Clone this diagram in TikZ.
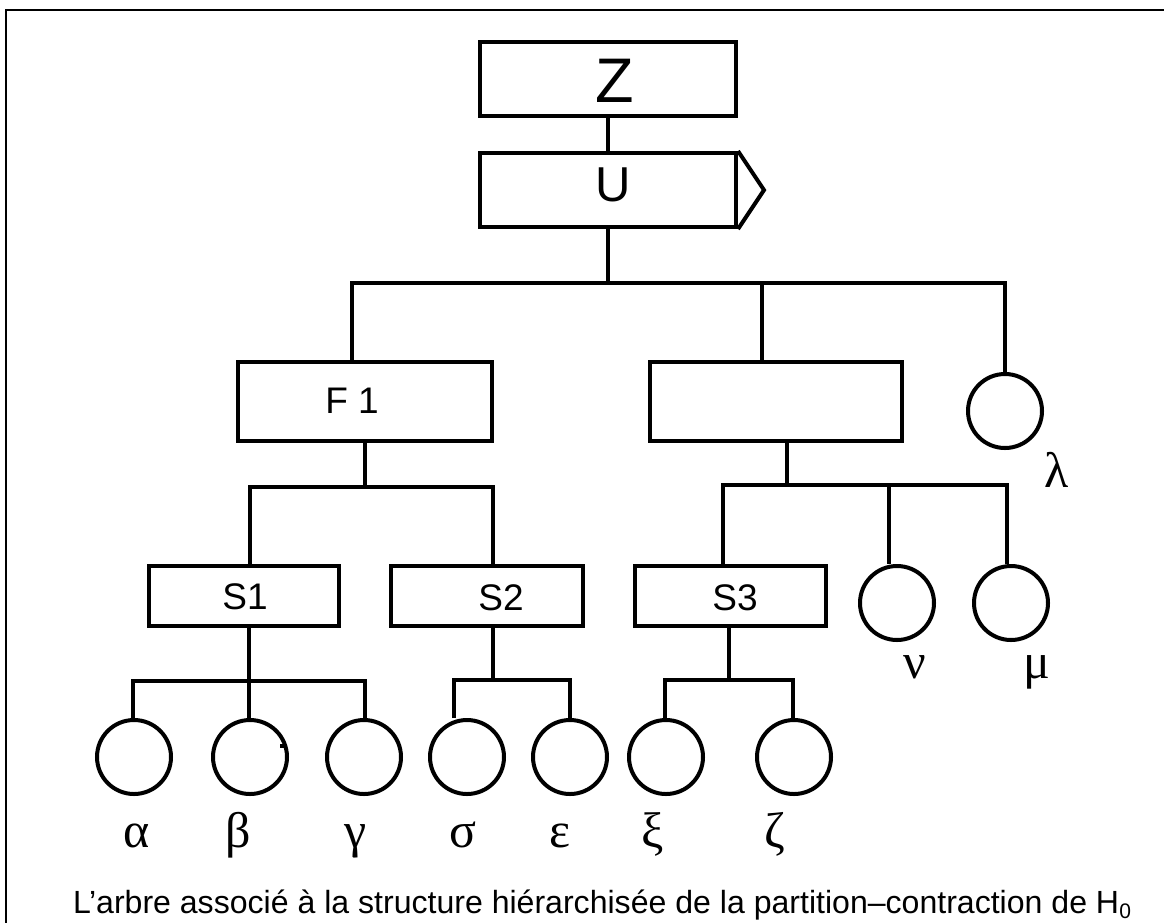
\documentclass[tikz,border=0pt]{standalone}
\usepackage{fontspec}
\setmainfont{Liberation Sans}
\newfontfamily\gk{Liberation Serif}
\begin{document}
\begin{tikzpicture}[x=1pt,y=-1pt, line width=4pt, line join=miter,
  box/.style={draw, line width=4pt, inner sep=0pt},
  leaf/.style={draw, circle, line width=4pt, minimum size=74pt, inner sep=0pt},
  gl/.style={font=\gk\fontsize{50}{52}\selectfont, anchor=base, inner sep=0pt},
  lbl/.style={inner sep=0pt},
  frame/.style={line width=2pt}
]
\useasboundingbox (0,0) rectangle (1164,922);
\draw[frame] (6,940) -- (6,10) -- (1180,10);

% boxes
\node[box, minimum width=256pt, minimum height=74pt] (Z) at (608,79) {};
\node[box, minimum width=256pt, minimum height=74pt] (U) at (608,190) {};
\draw (U.north east) -- ++(26,39) -- (U.south east);
\node[box, minimum width=254pt, minimum height=79pt] (F1) at (365,401.5) {};
\node[box, minimum width=252pt, minimum height=79pt] (M) at (776,401.5) {};
\node[box, minimum width=190pt, minimum height=60pt] (S1) at (244,596) {};
\node[box, minimum width=192pt, minimum height=60pt] (S2) at (487,596) {};
\node[box, minimum width=191pt, minimum height=60pt] (S3) at (730.5,596) {};

% box texts
\node[lbl, font=\fontsize{63}{70}\selectfont] at (615,81) {Z};
\node[lbl, font=\fontsize{49}{55}\selectfont] at (613,185) {U};
\node[lbl, font=\fontsize{37}{42}\selectfont] at (352,401) {F 1};
\node[lbl, font=\fontsize{37}{42}\selectfont] at (245,597) {S1};
\node[lbl, font=\fontsize{37}{42}\selectfont] at (501,598) {S2};
\node[lbl, font=\fontsize{37}{42}\selectfont] at (735,598) {S3};

% leaves
\node[leaf] (alpha) at (134,757) {};
\node[leaf] (beta) at (250,757) {};
\node[leaf] (gamma) at (364,757) {};
\node[leaf] (sigma) at (467,757) {};
\node[leaf] (eps) at (570,757) {};
\node[leaf] (xi) at (666,757) {};
\node[leaf] (zeta) at (794,757) {};
\node[leaf] (nu) at (897,603) {};
\node[leaf] (mu) at (1011,603) {};
\node[leaf] (lam) at (1005,411) {};
\fill (280,744) rectangle (284,748);

% junction coordinates
\coordinate (t0) at (608,283);
\coordinate (tF) at (352,283);
\coordinate (tM) at (762,283);
\coordinate (tL) at (1005,283);
\coordinate (fB) at (365,487);
\coordinate (fS1) at (250,487);
\coordinate (fS2) at (493,487);
\coordinate (mB) at (787,485);
\coordinate (mS3) at (723,485);
\coordinate (mNu) at (889,485);
\coordinate (mMu) at (1007,485);
\coordinate (s1B) at (249,681);
\coordinate (s1a) at (133,681);
\coordinate (s1g) at (365,681);
\coordinate (s2B) at (493,680);
\coordinate (s2a) at (454,680);
\coordinate (s2b) at (570,680);
\coordinate (s3B) at (729,680);
\coordinate (s3a) at (665,680);
\coordinate (s3b) at (793,680);

% connectors
\draw (Z.south) -- (U.south |- U.north);
\draw (U.south) -- (t0);
\draw (F1.north -| tF) -- (tF) -- (tL) -- (lam);
\draw (tM) -- (M.north -| tM);
\draw (F1.south -| fB) -- (fB);
\draw (S1.north -| fS1) -- (fS1) -- (fS2) -- (S2.north -| fS2);
\draw (M.south -| mB) -- (mB);
\draw (S3.north -| mS3) -- (mS3) -- (mMu) -- (mu.north -| mMu);
\draw (mNu) -- (nu.north -| mNu);
\draw (S1.south -| s1B) -- (s1B);
\draw (alpha.north -| s1a) -- (s1a) -- (s1g) -- (gamma.north -| s1g);
\draw (s1B) -- (beta.north -| s1B);
\draw (S2.south -| s2B) -- (s2B);
\draw (sigma.north -| s2a) -- (s2a) -- (s2b) -- (eps.north -| s2b);
\draw (S3.south -| s3B) -- (s3B);
\draw (xi.north -| s3a) -- (s3a) -- (s3b) -- (zeta.north -| s3b);

% greek labels
\node[gl] at (137,847) {α};
\node[gl] at (238,847) {β};
\node[gl] at (356,847) {γ};
\node[gl] at (463,847) {σ};
\node[gl] at (560,847) {ε};
\node[gl] at (653,847) {ξ};
\node[gl] at (775,847) {ζ};
\node[gl] at (1057,487) {λ};
\node[gl] at (915,678) {ν};
\node[gl] at (1037,678) {μ};

% caption
\node[anchor=base west, inner sep=0pt] (cap) at (71,913)
  {\resizebox{1058pt}{!}{\fontsize{32}{36}\selectfont L’arbre associé à la structure hiérarchisée de la partition–contraction de H\raisebox{-5pt}{\fontsize{21}{24}\selectfont 0}}};
\end{tikzpicture}
\end{document}
